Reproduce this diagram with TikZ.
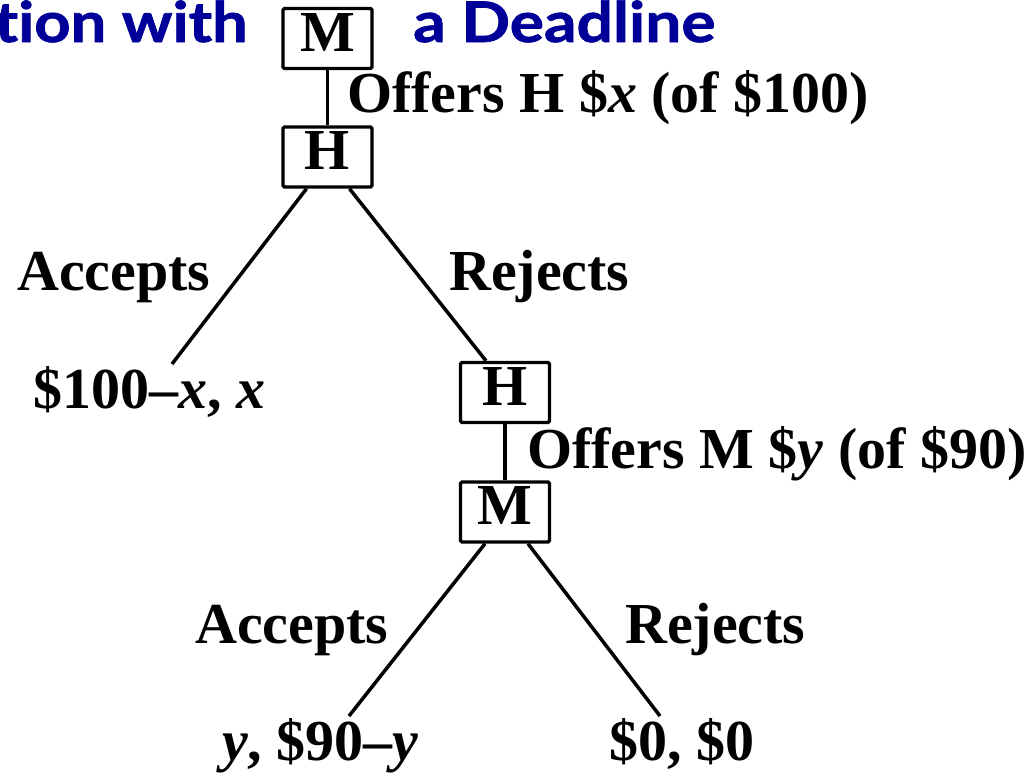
\documentclass[tikz,border=0pt]{standalone}
\usepackage{fontspec}
\setmainfont{Liberation Serif}
\newfontfamily\titlefont{Lato}[Ligatures=NoCommon, BoldFeatures={FakeBold=1.2}]
\usetikzlibrary{calc}
\definecolor{titleblue}{RGB}{0,0,153}
\begin{document}
\begin{tikzpicture}[x=1pt,y=-1pt,
  player/.style={draw, line width=3.4pt, rounded corners=1.5pt, minimum width=89pt, minimum height=60pt, inner sep=0pt, text height=38pt, text depth=13pt, font=\fontsize{58}{60}\selectfont\bfseries},
  lbl/.style={inner sep=0pt, anchor=base west, font=\fontsize{58}{60}\selectfont\bfseries},
  edge/.style={line width=3.5pt},
  ttl/.style={inner sep=0pt, text=titleblue, font=\titlefont\fontsize{56}{60}\selectfont\bfseries}]
\useasboundingbox (0,0) rectangle (1030,772);

\node[ttl, anchor=base east] (t1) at (248,42) {\scalebox{1.13}[1]{tion with}};
\node[ttl, anchor=base west] (t2) at (413,42) {\scalebox{1.145}[1]{a Deadline}};

\node[player] (M1) at (327.5,38.5) {M};
\node[player] (H1) at (327.5,157) {H};
\node[player] (H2) at (505,392.5) {H};
\node[player] (M2) at (505,512) {M};

\node[lbl] (offH) at (347,112) {Offers H \$\textit{x} (of \$100)};
\node[lbl] (acc1) at (17,290) {Accepts};
\node[lbl] (rej1) at (449,290) {Rejects};
\node[lbl] (pay1) at (33,408) {\$100--\textit{x}, \textit{x}};
\node[lbl] (offM) at (527,468) {Offers M \$\textit{y} (of \$90)};
\node[lbl] (acc2) at (195,643) {Accepts};
\node[lbl] (rej2) at (625,643) {Rejects};
\node[lbl] (pay2) at (222,760) {\textit{y}, \$90--\textit{y}};
\node[lbl] (pay3) at (609,760) {\$0, \$0};

\coordinate (e1) at (172,364);
\coordinate (e2) at (349,716);
\coordinate (e3) at (660,716);

\draw[edge] (M1.south) -- (H1.north);
\draw[edge] ([xshift=-21pt]H1.south) -- (e1);
\draw[edge] ([xshift=22pt]H1.south) -- ([xshift=-19pt]H2.north);
\draw[edge] (H2.south) -- (M2.north);
\draw[edge] ([xshift=-20pt]M2.south) -- (e2);
\draw[edge] ([xshift=23pt]M2.south) -- (e3);
\end{tikzpicture}
\end{document}
